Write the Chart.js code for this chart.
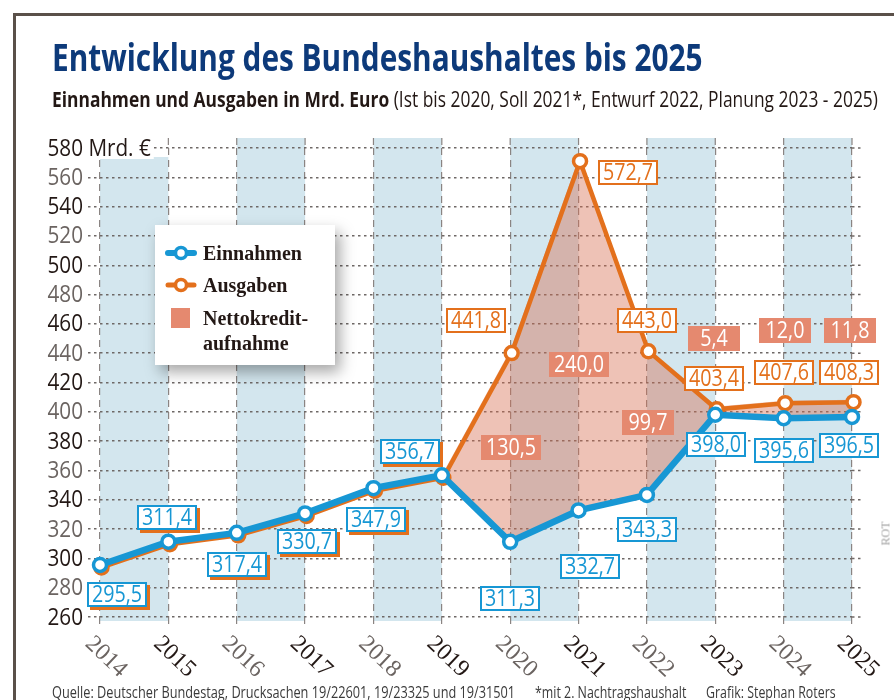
<!DOCTYPE html>
<html lang="de">
<head>
  <meta charset="UTF-8" />
  <title>Entwicklung des Bundeshaushaltes bis 2025</title>
  <script src="https://cdn.jsdelivr.net/npm/chart.js"></script>
  <style>
    body { margin: 0; background: #fff; }
    #wrap { position: relative; width: 894px; height: 700px; overflow: hidden; background: #fff; }
    #chart { position: absolute; left: 0; top: 0; }
    .narrow { font-family: "Open Sans", "Liberation Sans", sans-serif; display: inline-block; transform-origin: 0 0; }
    #frameTop { position: absolute; left: 13px; top: 13px; width: 900px; height: 2.5px; background: #5a5049; }
    #frameLeft { position: absolute; left: 13px; top: 13px; width: 2.5px; height: 700px; background: #5a5049; }
    #title { position: absolute; left: 52px; top: 35px; font-size: 37px; font-weight: bold; color: #0d3a7a; white-space: nowrap; line-height: 1.2; }
    #subtitle { position: absolute; left: 52px; top: 87px; font-size: 21px; color: #231815; white-space: nowrap; line-height: 1.2; }
    #subtitle b { font-weight: bold; }
    #legend { position: absolute; left: 155px; top: 225px; width: 180px; height: 140px; background: #fff;
              box-shadow: 5px 7px 14px rgba(0,0,0,0.35); font-family: "Liberation Serif", "DejaVu Serif", serif;
              font-weight: bold; font-size: 20px; color: #231815; }
    #legend .t { position: absolute; left: 48px; line-height: 1; white-space: nowrap; }
    #legend svg, #legend .sq { position: absolute; }
    #footer span { position: absolute; top: 683px; font-size: 16px; color: #3a3a3a; white-space: nowrap; line-height: 1.2; }
    #rot { position: absolute; left: 874px; top: 526px; transform: rotate(-90deg); font-family: "Liberation Serif", serif;
           font-size: 12px; font-weight: normal; color: #a0a0a0; }
  </style>
</head>
<body>
<div id="wrap">
  <canvas id="chart" width="894" height="700"></canvas>
  <div id="frameTop"></div>
  <div id="frameLeft"></div>
  <div id="title" class="narrow" data-w="651">Entwicklung des Bundeshaushaltes bis 2025</div>
  <div id="subtitle" class="narrow" data-w="826"><b>Einnahmen und Ausgaben in Mrd. Euro</b> (Ist bis 2020, Soll 2021*, Entwurf 2022, Planung 2023 - 2025)</div>
  <div id="legend">
    <svg style="left:9px;top:20px" width="34" height="16"><line x1="4" y1="8" x2="30" y2="8" stroke="#1797d4" stroke-width="6" stroke-linecap="round"/><circle cx="17" cy="8" r="5.5" fill="#fff" stroke="#1797d4" stroke-width="3.5"/></svg>
    <div class="t" style="top:18px">Einnahmen</div>
    <svg style="left:9px;top:52px" width="34" height="16"><line x1="4" y1="8" x2="30" y2="8" stroke="#e3701c" stroke-width="5" stroke-linecap="round"/><circle cx="17" cy="8" r="5.5" fill="#fff" stroke="#e3701c" stroke-width="3.5"/></svg>
    <div class="t" style="top:50px">Ausgaben</div>
    <div class="sq" style="left:16px;top:83px;width:19px;height:20px;background:#e5896f"></div>
    <div class="t" style="top:83px">Nettokredit-</div>
    <div class="t" style="top:108px">aufnahme</div>
  </div>
  <div id="footer">
    <span class="narrow" style="left:52px" data-w="463">Quelle: Deutscher Bundestag, Drucksachen 19/22601, 19/23325 und 19/31501</span>
    <span class="narrow" style="left:535px" data-w="151">*mit 2. Nachtragshaushalt</span>
    <span class="narrow" style="left:706px" data-w="130">Grafik: Stephan Roters</span>
  </div>
  <div id="rot">ROT</div>
</div>
<script>
  const years = ['2014', '2015', '2016', '2017', '2018', '2019', '2020', '2021', '2022', '2023', '2024', '2025'];
  const einnahmen = [295.5, 311.4, 317.4, 330.7, 347.9, 356.7, 311.3, 332.7, 343.3, 398.0, 395.6, 396.5];
  const ausgaben = [295.5, 311.4, 317.4, 330.7, 347.9, 356.7, 441.8, 572.7, 443.0, 403.4, 407.6, 408.3];
  const nettokredit = [null, null, null, null, null, null, 130.5, 240.0, 99.7, 5.4, 12.0, 11.8];
  const yMin = 260, yMax = 580, yStep = 20;

  // label placement (pixel offsets from the point)
  const einOffsets = [[17, 30], [-1, -24], [0, 32], [2, 28], [3, 31], [-32, -24], [0, 57], [11, 56], [0, 35], [1, 30], [0, 32], [-3, 29]];
  const ausOffsets = [null, null, null, null, null, null, [-34, -30], [49, 14], [0, -28], [-1, -28], [0, -28], [-3, -27]];
  const netOffsets = [null, null, null, null, null, null, [1, 97], [0, 206], [1, 74], [-1, -68], [1, -70], [-2, -69]];

  const BLUE = '#1797d4', ORANGE = '#e3701c', SALMON = '#e5896f';
  const DARK = '#231815', GRAY = '#6b6461';
  const SANS = '"Open Sans", "Liberation Sans", sans-serif';
  const SERIF = '"Liberation Serif", "DejaVu Serif", serif';
  const fmt = v => v.toFixed(1).replace('.', ',');

  // squeeze html texts to the widths of the original
  document.querySelectorAll('[data-w]').forEach(el => {
    el.style.transform = `scaleX(${(+el.dataset.w / el.offsetWidth).toFixed(4)})`;
  });

  function nText(ctx, text, x, y, align, sx) {
    ctx.save();
    ctx.translate(x, y);
    ctx.scale(sx, 1);
    ctx.textAlign = align;
    ctx.fillText(text, 0, 0);
    ctx.restore();
  }

  const bands = {
    id: 'bands',
    beforeDraw(chart) {
      const { ctx, chartArea: a, scales: { x, y } } = chart;
      ctx.save();
      ctx.fillStyle = '#d3e6ee';
      for (let i = 0; i < years.length - 1; i += 2) {
        const x1 = x.getPixelForValue(i), x2 = x.getPixelForValue(i + 1);
        const top = i === 0 ? a.top + 9 : a.top - 10;
        ctx.fillRect(x1, top, x2 - x1, a.bottom + 4 - top);
      }
      ctx.strokeStyle = '#8a8482'; ctx.lineWidth = 1.2; ctx.setLineDash([7, 5]);
      years.forEach((_, i) => {
        const px = x.getPixelForValue(i);
        ctx.beginPath(); ctx.moveTo(px, a.top - 10); ctx.lineTo(px, a.top); ctx.stroke();
      });
      ctx.strokeStyle = '#6e6866'; ctx.lineWidth = 1.5; ctx.setLineDash([2.5, 3.5]);
      for (let v = yMin; v <= yMax; v += yStep) {
        const py = y.getPixelForValue(v);
        ctx.beginPath(); ctx.moveTo(a.right, py); ctx.lineTo(a.right + 10, py); ctx.stroke();
      }
      ctx.restore();
    }
  };

  // orange line sits slightly offset, so it shows as a shadow under the blue one
  const shadowShift = {
    id: 'shadowShift',
    beforeDatasetDraw(chart, args) {
      if (args.index === 1) { chart.ctx.save(); chart.ctx.translate(1.5, 2.5); }
    },
    afterDatasetDraw(chart, args) {
      if (args.index === 1) chart.ctx.restore();
    }
  };

  function box(ctx, cx, cy, text, opts) {
    const sx = 0.82;
    ctx.font = '500 24px ' + SANS;
    const w = Math.max(opts.w, Math.round(ctx.measureText(text).width * sx + 10)), h = 25;
    const x0 = Math.round(cx - w / 2), y0 = Math.round(cy - h / 2);
    if (opts.shadow) { ctx.fillStyle = opts.shadow; ctx.fillRect(x0 + 3, y0 + 3, w, h); }
    ctx.fillStyle = opts.fill;
    ctx.fillRect(x0, y0, w, h);
    if (opts.border) {
      ctx.strokeStyle = opts.border; ctx.lineWidth = 2;
      ctx.strokeRect(x0 + 1, y0 + 1, w - 2, h - 2);
    }
    ctx.fillStyle = opts.color;
    ctx.textBaseline = 'middle';
    nText(ctx, text, x0 + w / 2, y0 + h / 2 + 1, 'center', sx);
  }

  const labels = {
    id: 'labels',
    afterDatasetsDraw(chart) {
      const { ctx, scales: { x, y } } = chart;
      ctx.save();
      einnahmen.forEach((v, i) => {
        const [dx, dy] = einOffsets[i];
        box(ctx, x.getPixelForValue(i) + dx, y.getPixelForValue(v) + dy, fmt(v),
          { w: 58, fill: '#fff', border: BLUE, color: BLUE, shadow: ausOffsets[i] ? null : ORANGE });
      });
      ausgaben.forEach((v, i) => {
        if (!ausOffsets[i]) return;
        const [dx, dy] = ausOffsets[i];
        box(ctx, x.getPixelForValue(i) + dx, y.getPixelForValue(v) + dy, fmt(v),
          { w: 58, fill: '#fff', border: ORANGE, color: ORANGE });
      });
      nettokredit.forEach((v, i) => {
        if (v == null) return;
        const [dx, dy] = netOffsets[i];
        box(ctx, x.getPixelForValue(i) + dx, y.getPixelForValue(ausgaben[i]) + dy, fmt(v),
          { w: 52, fill: SALMON, color: '#fff' });
      });
      ctx.restore();
    },
    afterDraw(chart) {
      const { ctx, chartArea: a, scales: { x, y } } = chart;
      const sx = 0.9;
      ctx.save();
      // y tick labels, top one with unit on white ground
      ctx.font = '23px ' + SANS;
      ctx.textBaseline = 'middle';
      const right = a.left - 17;
      y.ticks.forEach((t, i) => {
        const py = y.getPixelForValue(t.value);
        if (t.value === yMax) {
          const x0 = right - ctx.measureText(String(yMax)).width * sx;
          const txt = yMax + ' Mrd. €';
          const w = ctx.measureText(txt).width * sx;
          ctx.fillStyle = '#fff';
          ctx.fillRect(x0 - 3, py - 12, w + 6, 23);
          ctx.fillStyle = DARK;
          nText(ctx, txt, x0, py + 1, 'left', sx);
        } else {
          ctx.fillStyle = i % 2 ? GRAY : DARK;
          nText(ctx, String(t.value), right, py + 1, 'right', sx);
        }
      });
      // rotated year labels
      ctx.font = '24px ' + SERIF;
      ctx.textAlign = 'center';
      years.forEach((yr, i) => {
        const px = x.getPixelForValue(i);
        ctx.save();
        ctx.translate(px + 6, a.bottom + 40);
        ctx.rotate(0.76);
        ctx.fillStyle = i % 2 ? DARK : GRAY;
        ctx.fillText(yr, 0, 0);
        ctx.restore();
      });
      ctx.restore();
    }
  };

  new Chart(document.getElementById('chart'), {
    type: 'line',
    data: {
      labels: years,
      datasets: [
        {
          label: 'Einnahmen', data: einnahmen,
          borderColor: BLUE, borderWidth: 6.5, backgroundColor: '#fff',
          pointRadius: 6.5, pointBorderWidth: 3.5, pointBackgroundColor: '#fff', pointBorderColor: BLUE,
          tension: 0, fill: false
        },
        {
          label: 'Ausgaben', data: ausgaben,
          borderColor: ORANGE, borderWidth: 4.5, backgroundColor: 'rgba(215,110,80,0.42)',
          pointRadius: 6.5, pointBorderWidth: 3.5, pointBackgroundColor: '#fff', pointBorderColor: ORANGE,
          tension: 0, fill: { target: 0, above: 'rgba(215,110,80,0.42)', below: 'rgba(215,110,80,0.42)' }
        }
      ]
    },
    options: {
      responsive: false,
      animation: false,
      layout: { padding: { left: 0, top: 148, right: 42, bottom: 0 } },
      plugins: { legend: { display: false }, tooltip: { enabled: false } },
      scales: {
        x: {
          type: 'category',
          offset: false,
          afterFit: s => { s.height = 83; },
          ticks: { display: false },
          grid: { color: '#8a8482', lineWidth: 1.2, drawTicks: true, tickLength: 10, tickColor: '#8a8482', tickBorderDash: [7, 5] },
          border: { display: false, dash: [7, 5] }
        },
        y: {
          min: yMin, max: yMax,
          afterFit: s => { s.width = 100; },
          ticks: { display: false, stepSize: yStep, autoSkip: false },
          grid: { color: '#6e6866', lineWidth: 1.5, tickLength: 12, tickColor: '#6e6866', tickBorderDash: [2.5, 3.5] },
          border: { display: false, dash: [2.5, 3.5] }
        }
      }
    },
    plugins: [bands, shadowShift, labels]
  });
</script>
</body>
</html>
